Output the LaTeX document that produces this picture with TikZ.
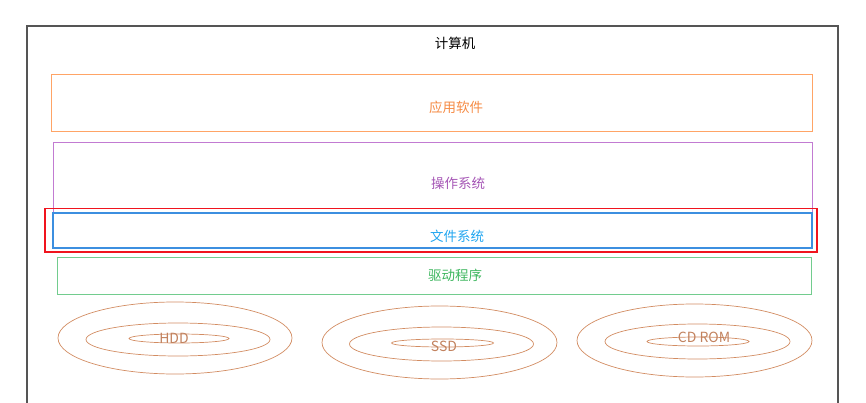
\documentclass[tikz,border=0pt]{standalone}
\usepackage{fontspec}
\setmainfont{Noto Sans CJK SC}
\definecolor{framegray}{HTML}{555555}
\definecolor{appline}{HTML}{FFA466}
\definecolor{apptext}{HTML}{F58B45}
\definecolor{osline}{HTML}{C27BD2}
\definecolor{ostext}{HTML}{A555B5}
\definecolor{fsline}{HTML}{3C8FE0}
\definecolor{fstext}{HTML}{22A6F0}
\definecolor{markred}{HTML}{F0141E}
\definecolor{drvline}{HTML}{72CC8E}
\definecolor{drvtext}{HTML}{3DB65E}
\definecolor{diskline}{HTML}{D28C62}
\definecolor{disktext}{HTML}{C2825E}
\begin{document}
\begin{tikzpicture}[x=1pt,y=-1pt,
  layer/.style={draw, rectangle, inner sep=0pt, line width=0.8pt},
  tag/.style={inner sep=0pt, font=\fontsize{13.5}{15}\selectfont},
  disk/.style={draw=diskline, line width=0.7pt}]
\useasboundingbox (0,0) rectangle (866,403);
% outer frame, open at the bottom
\draw[framegray, line width=1.1pt] (27,403) -- (27,26) -- (838,26) -- (838,403);
\node[tag] (title) at (455,43) {计算机};
% layers
\node[layer, draw=appline, minimum width=761pt, minimum height=57pt] (app) at (431.5,102.5) {};
\node[tag, text=apptext] (applabel) at (456,107) {应用软件};
\node[layer, draw=osline, minimum width=759pt, minimum height=106pt] (os) at (432.5,195) {};
\node[tag, text=ostext] (oslabel) at (458,183) {操作系统};
\node[layer, draw=fsline, line width=1.2pt, minimum width=759pt, minimum height=35pt] (fs) at (432.5,230.5) {};
\node[tag, text=fstext] (fslabel) at (457,236) {文件系统};
\node[layer, draw=markred, line width=1.2pt, minimum width=772pt, minimum height=43.5pt] (mark) at (431,230.25) {};
\node[layer, draw=drvline, minimum width=754pt, minimum height=37pt] (drv) at (434,275.5) {};
\node[tag, text=drvtext] (drvlabel) at (455,275) {驱动程序};
% disks
\draw[disk] (175,338) ellipse [x radius=117, y radius=36];
\draw[disk] (178,339.5) ellipse [x radius=92, y radius=16.5];
\draw[disk] (179,338.5) ellipse [x radius=50, y radius=4.5];
\node[tag, text=disktext, font=\fontsize{14}{16}\selectfont] (hdd) at (174,338) {HDD};
\draw[disk] (439.5,342.5) ellipse [x radius=117.5, y radius=36.5];
\draw[disk] (441.5,344) ellipse [x radius=92, y radius=17];
\draw[disk] (442.5,343) ellipse [x radius=51, y radius=4];
\node[tag, text=disktext, font=\fontsize{14}{16}\selectfont] (ssd) at (444,346) {SSD};
\draw[disk] (694.5,340.5) ellipse [x radius=117.5, y radius=36.5];
\draw[disk] (697.5,341.5) ellipse [x radius=92.5, y radius=17.5];
\draw[disk] (698,341.5) ellipse [x radius=51, y radius=4.5];
\node[tag, text=disktext, font=\fontsize{14}{16}\selectfont] (cdrom) at (704,337) {CD ROM};
\end{tikzpicture}
\end{document}
